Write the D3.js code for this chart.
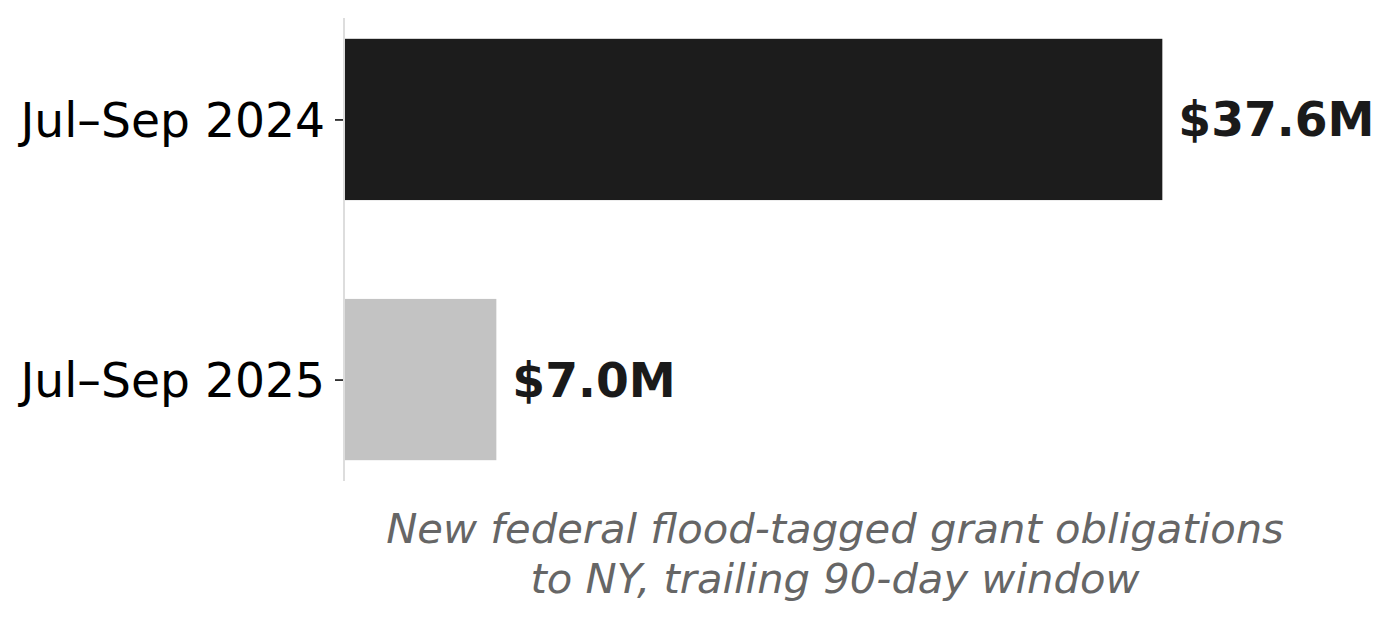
<!DOCTYPE html>
<html>
<head>
<meta charset="utf-8">
<script src="https://cdn.jsdelivr.net/npm/d3@7"></script>
<style>
  body { margin: 0; background: #fff; }
  svg { display: block; font-family: "DejaVu Sans", sans-serif; }
</style>
</head>
<body>
<div id="chart"></div>
<script>
// data
const periods = ["Jul–Sep 2024", "Jul–Sep 2025"];
const amounts = [37.6, 7.0]; // $M
const barColors = ["#1c1c1c", "#c3c3c3"];
const valueLabels = ["$37.6M", "$7.0M"];
const captionLines = ["New federal flood-tagged grant obligations", "to NY, trailing 90-day window"];

const W = 1395, H = 619;
const plot = { left: 344, right: 1326, top: 18, bottom: 481 };

const svg = d3.select("#chart")
  .append("svg")
  .attr("width", W)
  .attr("height", H);

const x = d3.scaleLinear()
  .domain([0, d3.max(amounts) * 1.2])
  .range([plot.left, plot.right]);

const y = d3.scaleLinear()
  .domain([-0.39, 1.39])
  .range([plot.top, plot.bottom]);

const barH = y(0.62) - y(0);

// bars
svg.selectAll(".bar")
  .data(amounts)
  .enter()
  .append("rect")
  .attr("class", "bar")
  .attr("x", x(0))
  .attr("y", (d, i) => y(i) - barH / 2)
  .attr("width", d => x(d) - x(0))
  .attr("height", barH)
  .attr("fill", (d, i) => barColors[i]);

// left spine
svg.append("line")
  .attr("x1", x(0)).attr("x2", x(0))
  .attr("y1", plot.top).attr("y2", plot.bottom)
  .attr("stroke", "#dddddd")
  .attr("stroke-width", 2);

// category axis
const yAxis = svg.append("g")
  .attr("transform", `translate(${x(0) - 1}, 0)`)
  .call(d3.axisLeft(y)
    .tickValues(d3.range(periods.length))
    .tickFormat(i => periods[i])
    .tickSize(8)
    .tickPadding(10));

yAxis.select(".domain").remove();
yAxis.selectAll(".tick line").attr("stroke", "#000").attr("stroke-width", 1.5);
yAxis.selectAll(".tick text")
  .attr("fill", "#000")
  .attr("dy", "0.36em")
  .style("font-size", "47.2px")
  .style("font-family", "DejaVu Sans, sans-serif");

// value labels
svg.selectAll(".label")
  .data(amounts)
  .enter()
  .append("text")
  .attr("class", "label")
  .attr("x", d => x(d) + 16)
  .attr("y", (d, i) => y(i))
  .attr("dy", "0.36em")
  .style("font-size", "47.2px")
  .style("font-weight", "bold")
  .style("fill", "#1a1a1a")
  .text((d, i) => valueLabels[i]);

// caption under the bars
svg.selectAll(".caption")
  .data(captionLines)
  .enter()
  .append("text")
  .attr("class", "caption")
  .attr("x", (plot.left + plot.right) / 2)
  .attr("y", (d, i) => 543 + i * 50)
  .attr("text-anchor", "middle")
  .style("font-size", "41.7px")
  .style("font-style", "italic")
  .style("fill", "#666666")
  .text(d => d);
</script>
</body>
</html>
